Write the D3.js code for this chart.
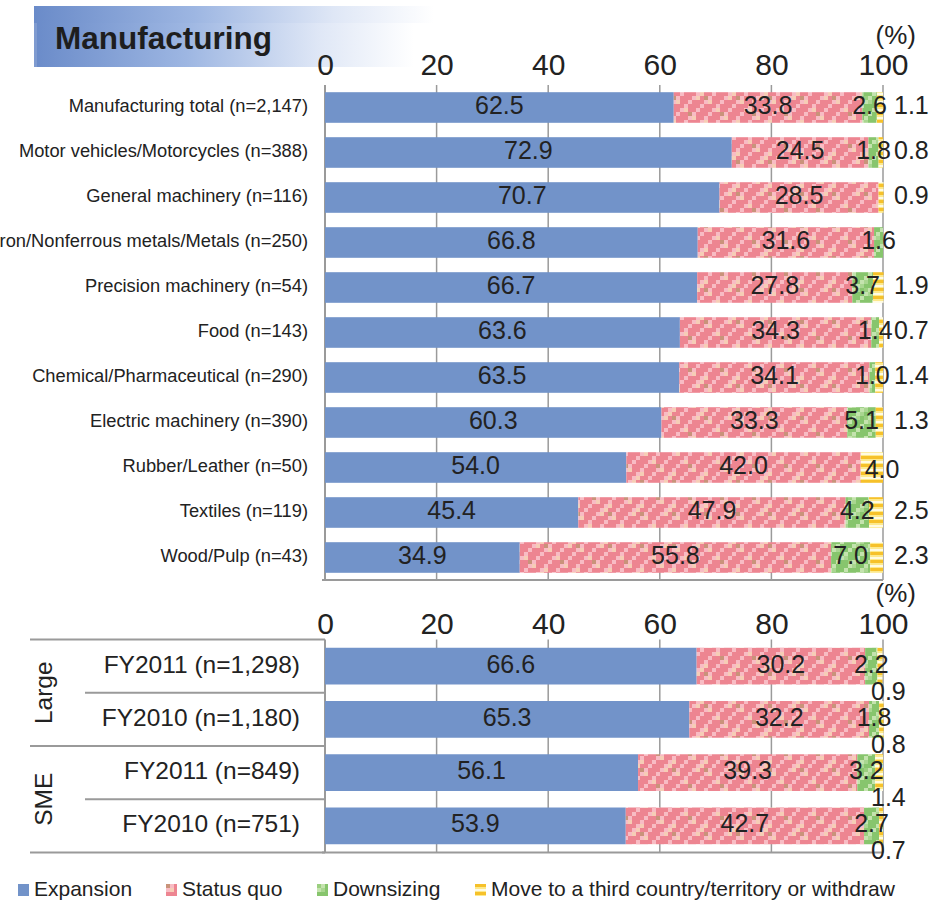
<!DOCTYPE html>
<html>
<head>
<meta charset="utf-8">
<script src="https://cdn.jsdelivr.net/npm/d3@7"></script>
<style>
  body { margin: 0; background: #fff; }
  svg text { font-family: "Liberation Sans", Arial, sans-serif; fill: #222; }
</style>
</head>
<body>
<svg id="chart" width="942" height="909"></svg>
<script>
const series = ["Expansion", "Status quo", "Downsizing", "Move to a third country/territory or withdraw"];

const industries = [
  "Manufacturing total (n=2,147)",
  "Motor vehicles/Motorcycles (n=388)",
  "General machinery (n=116)",
  "Iron/Nonferrous metals/Metals (n=250)",
  "Precision machinery (n=54)",
  "Food (n=143)",
  "Chemical/Pharmaceutical (n=290)",
  "Electric machinery (n=390)",
  "Rubber/Leather (n=50)",
  "Textiles (n=119)",
  "Wood/Pulp (n=43)"
];
const indExpansion  = [62.5, 72.9, 70.7, 66.8, 66.7, 63.6, 63.5, 60.3, 54.0, 45.4, 34.9];
const indStatusQuo  = [33.8, 24.5, 28.5, 31.6, 27.8, 34.3, 34.1, 33.3, 42.0, 47.9, 55.8];
const indDownsizing = [2.6, 1.8, 0, 1.6, 3.7, 1.4, 1.0, 5.1, 0, 4.2, 7.0];
const indWithdraw   = [1.1, 0.8, 0.9, 0, 1.9, 0.7, 1.4, 1.3, 4.0, 2.5, 2.3];

const sizeGroups = ["Large", "Large", "SME", "SME"];
const sizeRows = ["FY2011 (n=1,298)", "FY2010 (n=1,180)", "FY2011 (n=849)", "FY2010 (n=751)"];
const sizeExpansion  = [66.6, 65.3, 56.1, 53.9];
const sizeStatusQuo  = [30.2, 32.2, 39.3, 42.7];
const sizeDownsizing = [2.2, 1.8, 3.2, 2.7];
const sizeWithdraw   = [0.9, 0.8, 1.4, 0.7];

const ticks = [0, 20, 40, 60, 80, 100];

const svg = d3.select("#chart");
const defs = svg.append("defs");

// title band gradient
const grad = defs.append("linearGradient").attr("id", "titleGrad");
grad.append("stop").attr("offset", "0%").attr("stop-color", "#6a8bc9");
grad.append("stop").attr("offset", "40%").attr("stop-color", "#9db6e2");
grad.append("stop").attr("offset", "75%").attr("stop-color", "#dfe7f6");
grad.append("stop").attr("offset", "100%").attr("stop-color", "#ffffff");

// blocky diagonal patterns like the excel fills
function checker(id, base, light, mid, dot) {
  const c = 4, n = 8;
  const p = defs.append("pattern").attr("id", id)
    .attr("patternUnits", "userSpaceOnUse").attr("width", c * n).attr("height", c * n);
  p.append("rect").attr("width", c * n).attr("height", c * n).attr("fill", base);
  for (let i = 0; i < n; i++) {
    for (let j = 0; j < n; j++) {
      const k = (i + j) % 4;
      let f = null;
      if (k === 1) f = light;
      else if (k === 2 && (i + 2 * j) % 3 === 0) f = mid;
      if (f) p.append("rect").attr("x", i * c).attr("y", j * c).attr("width", c).attr("height", c).attr("fill", f);
    }
  }
  p.append("rect").attr("x", 0).attr("y", 0).attr("width", c).attr("height", c).attr("fill", dot);
  p.append("rect").attr("x", 16).attr("y", 16).attr("width", c).attr("height", c).attr("fill", dot);
}
checker("patStatus", "#ed8591", "#f8bcc4", "#f6cdb6", "#c9937a");
checker("patDown", "#87c56d", "#c4e3ae", "#a9d690", "#9bcf7f");

const stripe = defs.append("pattern").attr("id", "patMove")
  .attr("patternUnits", "userSpaceOnUse").attr("width", 8).attr("height", 8);
stripe.append("rect").attr("width", 8).attr("height", 8).attr("fill", "#fde98c");
stripe.append("rect").attr("y", 0).attr("width", 8).attr("height", 3).attr("fill", "#f6c12a");
stripe.append("rect").attr("y", 5).attr("width", 8).attr("height", 2).attr("fill", "#fffbe2");

const fills = ["#7293c9", "url(#patStatus)", "url(#patDown)", "url(#patMove)"];

// title
svg.append("rect").attr("x", 34).attr("y", 6).attr("width", 400).attr("height", 17).attr("fill", "url(#titleGrad)");
svg.append("rect").attr("x", 34).attr("y", 23).attr("width", 380).attr("height", 44).attr("fill", "url(#titleGrad)");
svg.append("rect").attr("x", 34).attr("y", 23).attr("width", 3).attr("height", 44).attr("fill", "#7f9bd0");
svg.append("text").attr("x", 55).attr("y", 49)
  .style("font-size", "31.5px").style("font-weight", "bold").style("fill", "#1e1e1e")
  .text("Manufacturing");

const x = d3.scaleLinear().domain([0, 100]).range([325, 883]);

function stack(exp, sq, dn, wd) {
  return exp.map((e, i) => {
    const vals = [e, sq[i], dn[i], wd[i]];
    let acc = 0;
    return vals.map((v, k) => {
      const seg = { k, v, x0: acc, x1: acc + v, row: i };
      acc += v;
      return seg;
    });
  });
}

function drawPanel(opts) {
  const { rows, data, top, bottom, padding, tickPad, pctY, labelX, labelSize, labelFont, withdrawBelow } = opts;
  const y = d3.scaleBand().domain(d3.range(rows.length)).range([top, bottom]).paddingInner(padding).paddingOuter(padding / 2);
  const g = svg.append("g");

  // grid
  g.selectAll("line.grid").data(ticks.slice(1)).join("line")
    .attr("x1", d => x(d)).attr("x2", d => x(d))
    .attr("y1", top).attr("y2", bottom)
    .attr("stroke", "#9a9a9a").attr("stroke-width", 1.5);
  g.append("line").attr("x1", x(0)).attr("x2", x(0)).attr("y1", top).attr("y2", bottom)
    .attr("stroke", "#9a9a9a").attr("stroke-width", 2);
  g.append("line").attr("x1", x(0) - 3).attr("x2", x(100)).attr("y1", bottom).attr("y2", bottom)
    .attr("stroke", "#9a9a9a").attr("stroke-width", 2);

  // top axis tick labels
  const ax = g.append("g").attr("transform", `translate(0,${top})`)
    .call(d3.axisTop(x).tickValues(ticks).tickSize(0).tickPadding(tickPad));
  ax.select(".domain").remove();
  ax.selectAll("text").style("font-size", "30px").style("fill", "#222").attr("font-family", null);

  g.append("text").attr("x", 916).attr("y", pctY).attr("text-anchor", "end")
    .style("font-size", "26px").text("(%)");

  // row labels
  g.selectAll("text.rowlab").data(rows).join("text")
    .attr("class", "rowlab")
    .attr("x", labelX).attr("y", (d, i) => y(i) + y.bandwidth() / 2)
    .attr("text-anchor", "end").attr("dominant-baseline", "middle")
    .style("font-size", labelFont).text(d => d);

  // bars
  const rowsG = g.selectAll("g.row").data(data).join("g").attr("class", "row");
  rowsG.selectAll("rect").data(d => d.filter(s => s.v > 0)).join("rect")
    .attr("x", s => x(s.x0)).attr("width", s => x(s.x1) - x(s.x0))
    .attr("y", s => y(s.row)).attr("height", y.bandwidth())
    .attr("fill", s => fills[s.k]);

  // value labels
  rowsG.selectAll("text").data(d => d.filter(s => s.v > 0)).join("text")
    .attr("x", s => {
      if (s.k < 3) return x((s.x0 + s.x1) / 2);
      if (withdrawBelow) return x(100) - 12;
      return s.v >= 3 ? x(s.x0) + 4 : x(100) + 11;
    })
    .attr("y", s => {
      const c = y(s.row) + y.bandwidth() / 2;
      if (s.k === 3 && withdrawBelow) return c + 27;
      if (s.k === 3 && s.v >= 3) return c + 4;
      return c;
    })
    .attr("text-anchor", s => s.k < 3 ? "middle" : "start")
    .attr("dominant-baseline", "middle")
    .style("font-size", labelSize)
    .text(s => d3.format(".1f")(s.v));

  return y;
}

drawPanel({
  rows: industries,
  data: stack(indExpansion, indStatusQuo, indDownsizing, indWithdraw),
  top: 85, bottom: 580, padding: 0.32, tickPad: 10, pctY: 44,
  labelX: 308, labelSize: "25px", labelFont: "18.3px", withdrawBelow: false
});

const yb = drawPanel({
  rows: sizeRows,
  data: stack(sizeExpansion, sizeStatusQuo, sizeDownsizing, sizeWithdraw),
  top: 639.5, bottom: 852.5, padding: 0.31, tickPad: 6, pctY: 602,
  labelX: 300, labelSize: "25px", labelFont: "24.5px", withdrawBelow: true
});

// table lines for the size groups
const step = yb.step();
d3.range(sizeRows.length + 1).forEach(i => {
  const yy = 639.5 + i * step;
  const boundary = i === 0 || i === sizeRows.length || sizeGroups[i] !== sizeGroups[i - 1];
  svg.append("line").attr("x1", boundary ? 30 : 85).attr("x2", 325)
    .attr("y1", yy).attr("y2", yy)
    .attr("stroke", "#9a9a9a").attr("stroke-width", 2);
});
const groupNames = Array.from(new Set(sizeGroups));
groupNames.forEach(name => {
  const idx = sizeGroups.map((g, i) => g === name ? i : -1).filter(i => i >= 0);
  const cy = (yb(idx[0]) + yb(idx[idx.length - 1]) + yb.bandwidth()) / 2;
  svg.append("text").attr("transform", `translate(46,${cy}) rotate(-90)`)
    .attr("text-anchor", "middle").attr("dominant-baseline", "middle")
    .style("font-size", "24.5px").text(name);
});

// legend
const legendX = [18, 166, 317, 475];
const lg = svg.append("g").selectAll("g").data(series).join("g")
  .attr("transform", (d, i) => `translate(${legendX[i]},884)`);
lg.append("rect").attr("width", 11).attr("height", 12).attr("fill", (d, i) => fills[i]);
lg.append("text").attr("x", 16).attr("y", 6).attr("dominant-baseline", "middle")
  .style("font-size", "21px").text(d => d);
</script>
</body>
</html>
